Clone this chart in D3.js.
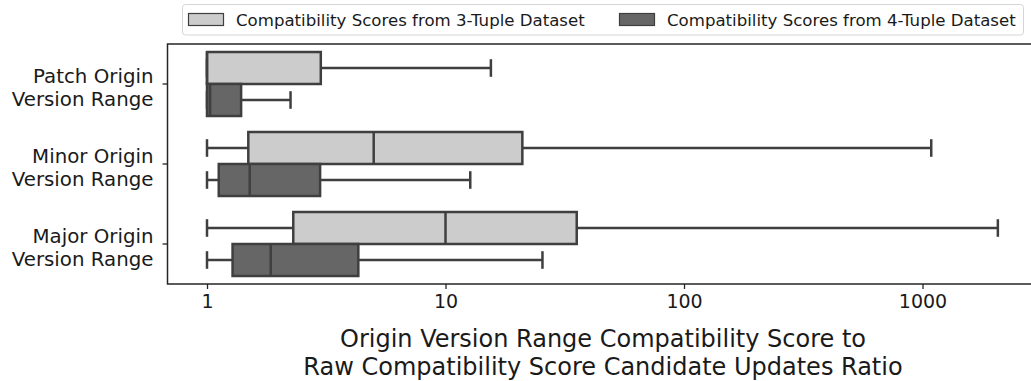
<!DOCTYPE html>
<html>
<head>
<meta charset="utf-8">
<script src="https://cdn.jsdelivr.net/npm/d3@7"></script>
<style>
  html, body { margin: 0; padding: 0; background: #ffffff; }
  svg { display: block; font-family: "DejaVu Sans", sans-serif; }
</style>
</head>
<body>
<svg id="chart" width="1031" height="381"></svg>
<script>
// Version-range categories (each label on two lines)
const categories = ["Patch Origin\nVersion Range", "Minor Origin\nVersion Range", "Major Origin\nVersion Range"];
const seriesNames = ["Compatibility Scores from 3-Tuple Dataset", "Compatibility Scores from 4-Tuple Dataset"];

// Box statistics, 3-tuple dataset
const whiskerLow3  = [1, 1, 1];
const q1Tuple3     = [1, 1.49, 2.30];
const median3      = [1, 5, 10];
const q3Tuple3     = [3, 21, 35.5];
const whiskerHigh3 = [15.5, 1088, 2070];

// Box statistics, 4-tuple dataset
const whiskerLow4  = [1, 1, 1];
const q1Tuple4     = [1, 1.12, 1.28];
const median4      = [1.03, 1.51, 1.85];
const q3Tuple4     = [1.39, 2.98, 4.31];
const whiskerHigh4 = [2.24, 12.7, 25.5];

const xTickValues = [1, 10, 100, 1000];
const xTickLabels = ["1", "10", "100", "1000"];
const xLabelLines = ["Origin Version Range Compatibility Score to", "Raw Compatibility Score Candidate Updates Ratio"];

const fills = ["#cccccc", "#666666"];
const edge = "#3f3f3f";

const svg = d3.select("#chart");
const plot = { left: 167.5, top: 44, bottom: 284, right: 1045 };

const x = d3.scaleLog().domain([1, 1000]).range([207, 922.5]);
const y = d3.scaleBand().domain(categories).range([plot.top, plot.bottom]).padding(0);
const hue = d3.scaleBand().domain([0, 1]).range([0.1, 0.9]).padding(0); // fraction of the band

const series = [
  { lo: whiskerLow3, q1: q1Tuple3, med: median3, q3: q3Tuple3, hi: whiskerHigh3 },
  { lo: whiskerLow4, q1: q1Tuple4, med: median4, q3: q3Tuple4, hi: whiskerHigh4 }
];

const bw = y.bandwidth();
const g = svg.append("g");

series.forEach((s, si) => {
  categories.forEach((cat, ci) => {
    const y0 = y(cat) + hue(si) * bw;
    const h = hue.bandwidth() * bw;
    const cy = y0 + h / 2;
    const capH = h * 0.55;
    const box = g.append("g").attr("stroke", edge).attr("stroke-width", 2.5).attr("fill", "none");
    // whiskers
    box.append("line").attr("x1", x(s.lo[ci])).attr("x2", x(s.q1[ci])).attr("y1", cy).attr("y2", cy);
    box.append("line").attr("x1", x(s.q3[ci])).attr("x2", x(s.hi[ci])).attr("y1", cy).attr("y2", cy);
    // caps
    box.append("line").attr("x1", x(s.lo[ci])).attr("x2", x(s.lo[ci])).attr("y1", cy - capH / 2).attr("y2", cy + capH / 2);
    box.append("line").attr("x1", x(s.hi[ci])).attr("x2", x(s.hi[ci])).attr("y1", cy - capH / 2).attr("y2", cy + capH / 2);
    // box
    box.append("rect")
      .attr("x", x(s.q1[ci])).attr("y", y0)
      .attr("width", x(s.q3[ci]) - x(s.q1[ci])).attr("height", h)
      .attr("fill", fills[si]);
    // median
    box.append("line").attr("x1", x(s.med[ci])).attr("x2", x(s.med[ci])).attr("y1", y0).attr("y2", y0 + h);
  });
});

// spines
const spineColor = "#262626";
svg.append("path")
  .attr("d", `M${plot.right},${plot.top}H${plot.left}V${plot.bottom}H${plot.right}`)
  .attr("fill", "none").attr("stroke", spineColor).attr("stroke-width", 1.5);

// x axis
const xAxis = svg.append("g").attr("transform", `translate(0,${plot.bottom})`)
  .call(d3.axisBottom(x).tickValues(xTickValues).tickFormat((d, i) => xTickLabels[i]).tickSize(5).tickPadding(6));
xAxis.select(".domain").remove();
xAxis.selectAll("line").attr("stroke", spineColor).attr("stroke-width", 1.3);
xAxis.selectAll("text").attr("fill", "#1a1a1a").attr("font-size", 19).attr("font-family", "DejaVu Sans");

// y axis
const yAxis = svg.append("g").attr("transform", `translate(${plot.left},0)`)
  .call(d3.axisLeft(y).tickSize(5).tickFormat(""));
yAxis.select(".domain").remove();
yAxis.selectAll("line").attr("stroke", spineColor).attr("stroke-width", 1.3);
yAxis.selectAll(".tick").each(function (d) {
  const lines = d.split("\n");
  const t = d3.select(this).append("text")
    .attr("x", -14).attr("text-anchor", "end")
    .attr("fill", "#1a1a1a").attr("font-size", 19.8).attr("font-family", "DejaVu Sans");
  lines.forEach((ln, i) => {
    t.append("tspan").attr("x", -14).attr("y", -1.5 + i * 23.3).text(ln);
  });
});

// x axis title
const xl = svg.append("text").attr("text-anchor", "middle")
  .attr("fill", "#1a1a1a").attr("font-size", 24).attr("font-family", "DejaVu Sans");
xLabelLines.forEach((ln, i) => {
  xl.append("tspan").attr("x", 603).attr("y", 347 + i * 27.5).text(ln);
});

// legend
const legend = svg.append("g");
legend.append("rect").attr("x", 182.5).attr("y", 4.5).attr("width", 841).attr("height", 30.5)
  .attr("rx", 3).attr("fill", "#ffffff").attr("stroke", "#d5d5d5").attr("stroke-width", 1);
const legendX = [188.5, 619.5];
seriesNames.forEach((name, i) => {
  legend.append("rect").attr("x", legendX[i]).attr("y", 13.5).attr("width", 35).attr("height", 12)
    .attr("fill", fills[i]).attr("stroke", edge).attr("stroke-width", 1.2);
  legend.append("text").attr("x", legendX[i] + 47.5).attr("y", 25.5)
    .attr("font-size", 16.6).attr("fill", "#1a1a1a").attr("font-family", "DejaVu Sans").text(name);
});
</script>
</body>
</html>
